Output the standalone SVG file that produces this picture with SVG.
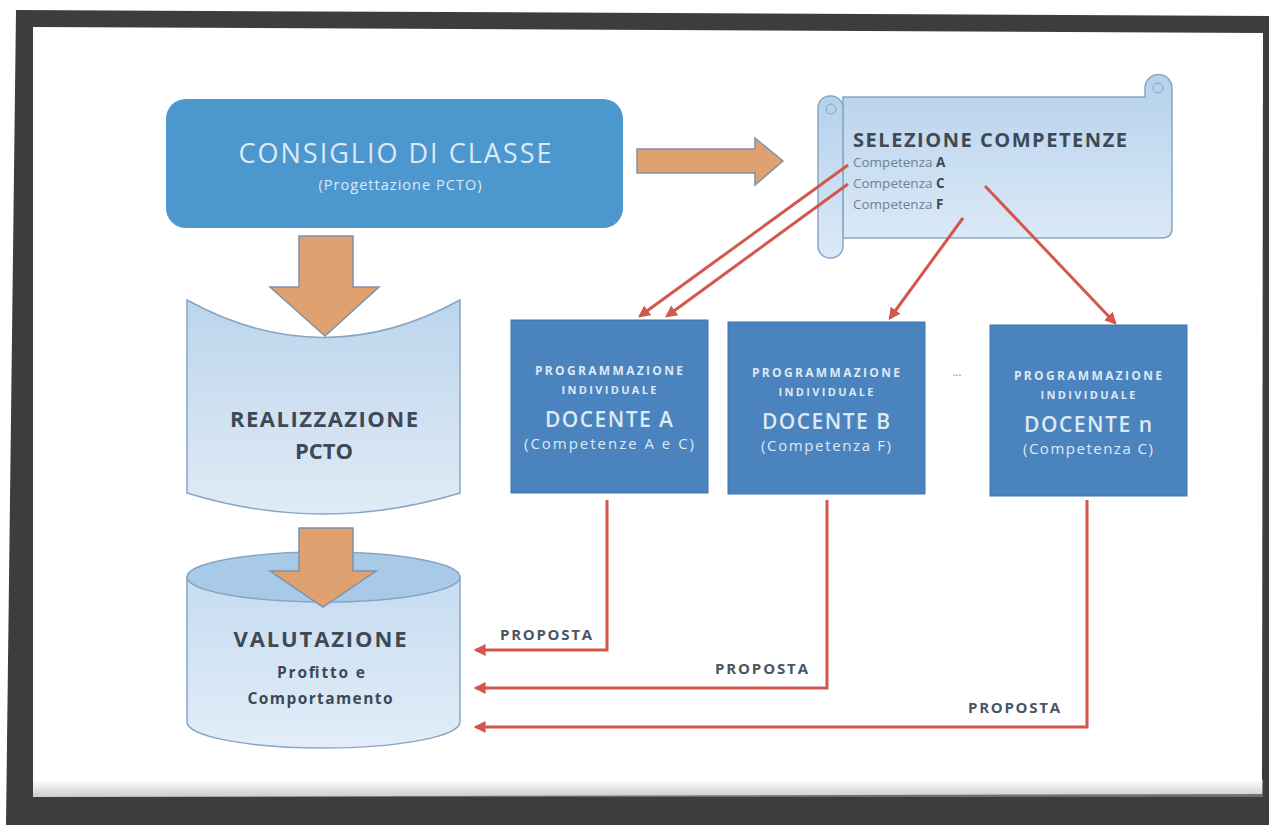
<svg xmlns="http://www.w3.org/2000/svg" width="1269" height="825" viewBox="0 0 1269 825">
<defs>
<linearGradient id="gScroll" x1="0" y1="0" x2="0" y2="1">
<stop offset="0" stop-color="#b5d1eb"/>
<stop offset="1" stop-color="#dbe9f7"/>
</linearGradient>
<linearGradient id="gReal" x1="0" y1="0" x2="0" y2="1">
<stop offset="0" stop-color="#bcd5ec"/>
<stop offset="1" stop-color="#e0ebf6"/>
</linearGradient>
<linearGradient id="gCyl" x1="0" y1="0" x2="0" y2="1">
<stop offset="0" stop-color="#c6dcf0"/>
<stop offset="1" stop-color="#e2edf8"/>
</linearGradient>
<linearGradient id="gShadow" x1="0" y1="0" x2="0" y2="1">
<stop offset="0" stop-color="#ffffff"/>
<stop offset="1" stop-color="#9a9a9a"/>
</linearGradient>
<marker id="ah" viewBox="0 0 10 10" refX="8" refY="5" markerWidth="4" markerHeight="4" orient="auto-start-reverse" markerUnits="strokeWidth">
<path d="M0,0 L10,5 L0,10 Z" fill="#d4574c"/>
</marker>
<style>
.red{fill:none;stroke:#d4574c;stroke-width:3;}
.big{fill:#dea16f;stroke:#7d93ab;stroke-width:1.5;}
.doc{fill:#4b83be;stroke:#3f74ae;stroke-width:1;}
.lt{font-family:"Open Sans",Lato,sans-serif;fill:#dde9f5;text-anchor:middle;}
.dk{font-family:"Open Sans",Lato,sans-serif;fill:#3e4955;font-weight:bold;text-anchor:middle;}
.cp{font-family:"Open Sans",Lato,sans-serif;fill:#6d8296;font-size:13.5px;}
.prop{font-family:"Open Sans",Lato,sans-serif;fill:#4a5561;font-weight:bold;font-size:15px;}
.pale{stroke:#86a6c8;stroke-width:1.5;}
</style>
</defs>
<rect width="1269" height="825" fill="#ffffff"/>
<g id="frame">
<polygon points="16,10 1269,16 1269,825 6,825" fill="#3d3d3d"/>
<polygon points="33,27 1263,33 1262,794 33,797" fill="#ffffff"/>
<rect x="33" y="780" width="1230" height="17" fill="url(#gShadow)" opacity="0.5"/>
</g>
<g id="consiglio">
<rect x="166" y="99" width="457" height="129" rx="20" fill="#4d97cf"/>
<text class="lt" x="395" y="163" font-size="27" textLength="313">CONSIGLIO DI CLASSE</text>
<text class="lt" x="400" y="190" font-size="14.5" textLength="163">(Progettazione PCTO)</text>
</g>
<g id="selezione">
<path class="pale" d="M843,97 L1145,97 L1145,88 A13.5,13.5 0 0 1 1172,88 L1172,228 Q1172,238 1162,238 L843,238 Z" fill="url(#gScroll)"/>
<rect class="pale" x="818" y="96" width="25" height="162" rx="12" fill="url(#gScroll)"/>
<circle cx="831" cy="109" r="5" fill="none" stroke="#86a6c8" stroke-width="1"/>
<circle cx="1158" cy="88" r="5" fill="none" stroke="#86a6c8" stroke-width="1"/>
<text class="dk" x="990" y="147" font-size="20" textLength="274">SELEZIONE COMPETENZE</text>
<text class="cp" x="853" y="167">Competenza <tspan font-weight="bold" fill="#3e4955">A</tspan></text>
<text class="cp" x="853" y="188">Competenza <tspan font-weight="bold" fill="#3e4955">C</tspan></text>
<text class="cp" x="853" y="209">Competenza <tspan font-weight="bold" fill="#3e4955">F</tspan></text>
</g>
<g id="realizzazione">
<path class="pale" d="M187,300 Q323,375 460,300 L460,493 Q323,535 187,493 Z" fill="url(#gReal)"/>
<text class="dk" x="324" y="427" font-size="22" textLength="188">REALIZZAZIONE</text>
<text class="dk" x="324" y="459" font-size="22">PCTO</text>
</g>
<g id="valutazione">
<path class="pale" d="M187,577 L187,722 A136.5,26 0 0 0 460,722 L460,577 Z" fill="url(#gCyl)"/>
<ellipse class="pale" cx="323.5" cy="577" rx="136.5" ry="25" fill="#a9cae6"/>
<text class="dk" x="320" y="647" font-size="22" textLength="173">VALUTAZIONE</text>
<text class="dk" x="321" y="678" font-size="15.5" fill="#56616d" textLength="88">Profitto e</text>
<text class="dk" x="320" y="704" font-size="15.5" textLength="145">Comportamento</text>
</g>
<g id="docenteA">
<rect class="doc" x="511" y="320" width="197" height="173"/>
<text class="lt" x="609" y="375" font-size="12" font-weight="bold" textLength="148">PROGRAMMAZIONE</text>
<text class="lt" x="609" y="394" font-size="11" font-weight="bold" textLength="95">INDIVIDUALE</text>
<text class="lt" x="609" y="427" font-size="21" font-weight="600" textLength="128">DOCENTE A</text>
<text class="lt" x="609" y="449" font-size="15" textLength="170">(Competenze A e C)</text>
</g>
<g id="docenteB">
<rect class="doc" x="728" y="322" width="197" height="172"/>
<text class="lt" x="826" y="377" font-size="12" font-weight="bold" textLength="148">PROGRAMMAZIONE</text>
<text class="lt" x="826" y="396" font-size="11" font-weight="bold" textLength="95">INDIVIDUALE</text>
<text class="lt" x="826" y="429" font-size="21" font-weight="600" textLength="128">DOCENTE B</text>
<text class="lt" x="826" y="451" font-size="15" textLength="130">(Competenza F)</text>
</g>
<text x="957" y="376" font-family="Lato,sans-serif" font-size="12" fill="#8a96a2" text-anchor="middle">...</text>
<g id="docenteN">
<rect class="doc" x="990" y="325" width="197" height="171"/>
<text class="lt" x="1088" y="380" font-size="12" font-weight="bold" textLength="148">PROGRAMMAZIONE</text>
<text class="lt" x="1088" y="399" font-size="11" font-weight="bold" textLength="95">INDIVIDUALE</text>
<text class="lt" x="1088" y="432" font-size="21" font-weight="600" textLength="128">DOCENTE n</text>
<text class="lt" x="1088" y="454" font-size="15" textLength="130">(Competenza C)</text>
</g>
<g id="connectors">
<polygon class="big" points="299,236 353,236 353,287 379,287 325,336 270,287 299,287"/>
<polygon class="big" points="299,528 353,528 353,571 376,571 323,607 270,571 299,571"/>
<polygon class="big" points="637,149 755,149 755,138 783,161 755,185 755,173 637,173"/>
<line class="red" x1="848" y1="165" x2="640" y2="316" marker-end="url(#ah)"/>
<line class="red" x1="848" y1="184" x2="667" y2="316" marker-end="url(#ah)"/>
<line class="red" x1="963" y1="218" x2="890" y2="318" marker-end="url(#ah)"/>
<line class="red" x1="985" y1="186" x2="1115" y2="323" marker-end="url(#ah)"/>
<polyline class="red" points="607,500 607,650 476,650" marker-end="url(#ah)"/>
<polyline class="red" points="827,500 827,688 476,688" marker-end="url(#ah)"/>
<polyline class="red" points="1087,500 1087,727 476,727" marker-end="url(#ah)"/>
<text class="prop" x="500" y="640" textLength="92">PROPOSTA</text>
<text class="prop" x="715" y="674" textLength="93">PROPOSTA</text>
<text class="prop" x="968" y="713" textLength="92">PROPOSTA</text>
</g>
</svg>
